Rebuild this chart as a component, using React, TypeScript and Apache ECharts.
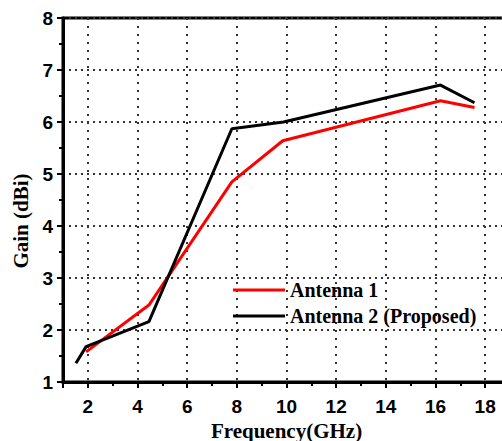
import React, { useEffect, useRef } from "react";
import * as echarts from "echarts";

const freqA1 = [1.93, 4.46, 7.8, 9.85, 16.2, 17.57];
const gainA1 = [1.58, 2.48, 4.85, 5.64, 6.41, 6.28];
const freqA2 = [1.52, 1.93, 4.46, 7.8, 9.88, 16.2, 17.57];
const gainA2 = [1.36, 1.68, 2.16, 5.87, 6.0, 6.71, 6.37];
const seriesNames = ["Antenna 1", "Antenna 2 (Proposed)"];
const xTitle = "Frequency(GHz)";
const yTitle = "Gain (dBi)";

export default function App() {
  const ref = useRef<HTMLDivElement>(null);
  useEffect(() => {
    if (!ref.current) return;
    const chart = echarts.init(ref.current, null, { renderer: "svg" });
    const sans = "Liberation Sans";
    const serif = "Liberation Serif";
    chart.setOption({
      animation: false,
      backgroundColor: "#fff",
      grid: {
        left: 63,
        right: 10,
        top: 18,
        bottom: 59,
        containLabel: false,
        outerBoundsMode: "none",
        show: true,
        borderColor: "#000",
        borderWidth: 3,
      },
      legend: {
        data: seriesNames,
        orient: "vertical",
        left: 228,
        top: 274,
        icon: "rect",
        itemWidth: 52,
        itemHeight: 3,
        itemGap: 4,
        textStyle: {
          fontFamily: serif,
          fontWeight: "bold",
          fontSize: 20,
          color: "#000",
          lineHeight: 22,
        },
      },
      xAxis: {
        type: "value",
        min: 1,
        max: 19,
        splitNumber: 9,
        name: xTitle,
        nameLocation: "middle",
        nameGap: 37,
        nameTextStyle: { fontFamily: serif, fontWeight: "bold", fontSize: 21, color: "#000" },
        axisLine: { show: true, lineStyle: { color: "#000", width: 3 } },
        axisTick: { show: true, inside: false, length: 6, lineStyle: { color: "#000", width: 2 } },
        minorTick: { show: true, splitNumber: 2, length: 4, lineStyle: { color: "#000", width: 2 } },
        axisLabel: {
          showMinLabel: false,
          showMaxLabel: false,
          margin: 15,
          fontFamily: sans,
          fontWeight: "bold",
          fontSize: 19,
          color: "#000",
        },
        splitLine: { show: true, lineStyle: { color: "#333", width: 2, type: [2, 6] } },
      },
      yAxis: {
        type: "value",
        min: 1,
        max: 8,
        interval: 1,
        name: yTitle,
        nameLocation: "middle",
        nameGap: 31,
        nameRotate: 90,
        nameTextStyle: {
          fontFamily: serif,
          fontWeight: "bold",
          fontSize: 21,
          color: "#000",
          padding: [0, 42, 0, 0],
        },
        axisLine: { show: true, lineStyle: { color: "#000", width: 3 } },
        axisTick: { show: true, inside: false, length: 6, lineStyle: { color: "#000", width: 2 } },
        minorTick: { show: true, splitNumber: 2, length: 4, lineStyle: { color: "#000", width: 2 } },
        axisLabel: {
          margin: 10,
          fontFamily: sans,
          fontWeight: "bold",
          fontSize: 19,
          color: "#000",
        },
        splitLine: { show: true, lineStyle: { color: "#333", width: 2, type: [2, 4] } },
      },
      series: [
        {
          name: seriesNames[0],
          type: "line",
          data: freqA1.map((f, i) => [f, gainA1[i]]),
          symbol: "none",
          color: "#ff0000",
          lineStyle: { color: "#ff0000", width: 3 },
        },
        {
          name: seriesNames[1],
          type: "line",
          data: freqA2.map((f, i) => [f, gainA2[i]]),
          symbol: "none",
          color: "#000000",
          lineStyle: { color: "#000000", width: 3 },
        },
      ],
    });
    return () => chart.dispose();
  }, []);
  return (
    <div style={{ position: "fixed", left: 0, top: 0, width: 502, height: 441, overflow: "hidden", background: "#fff" }}>
      <div ref={ref} style={{ width: 520, height: 441 }} />
    </div>
  );
}
